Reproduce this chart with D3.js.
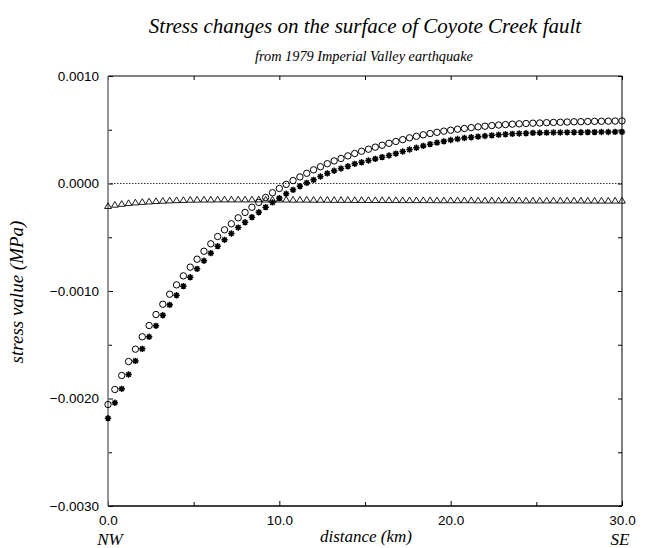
<!DOCTYPE html>
<html>
<head>
<meta charset="utf-8">
<script src="https://cdn.jsdelivr.net/npm/d3@7"></script>
<style>
  body { margin: 0; background: #fff; }
  svg { display: block; }
  .tick text { font-family: "Liberation Sans", Arial, sans-serif; font-size: 13.5px; fill: #000; }
  .serif { font-family: "Liberation Serif", "Times New Roman", serif; font-style: italic; fill: #000; }
</style>
</head>
<body>
<div id="chart"></div>
<script>
// distance along the fault (km)
const distance = [
  0.0, 0.4, 0.8, 1.2, 1.6, 2.0, 2.4, 2.8, 3.2, 3.6, 4.0, 4.4, 4.8, 5.2, 5.6, 6.0,
  6.4, 6.8, 7.2, 7.6, 8.0, 8.4, 8.8, 9.2, 9.6, 10.0, 10.4, 10.8, 11.2, 11.6, 12.0,
  12.4, 12.8, 13.2, 13.6, 14.0, 14.4, 14.8, 15.2, 15.6, 16.0, 16.4, 16.8, 17.2,
  17.6, 18.0, 18.4, 18.8, 19.2, 19.6, 20.0, 20.4, 20.8, 21.2, 21.6, 22.0, 22.4,
  22.8, 23.2, 23.6, 24.0, 24.4, 24.8, 25.2, 25.6, 26.0, 26.4, 26.8, 27.2, 27.6,
  28.0, 28.4, 28.8, 29.2, 29.6, 30.0
];

// open circles (MPa)
const circleValues = [
  -0.002056, -0.001916, -0.001786, -0.001656, -0.001541, -0.001426, -0.001321, -0.001219,
  -0.001123, -0.001030, -0.000943, -0.000859, -0.000778, -0.000704, -0.000630, -0.000561,
  -0.000493, -0.000431, -0.000375, -0.000319,
  -0.000269, -0.000221, -0.000176, -0.000130, -0.000086, -0.000046, -0.000008, 0.000027,
  0.000061, 0.000095, 0.000127, 0.000156, 0.000184, 0.000210, 0.000233, 0.000257,
  0.000279, 0.000300, 0.000319, 0.000338, 0.000356, 0.000374, 0.000391, 0.000408,
  0.000425, 0.000439,
  0.000453, 0.000465, 0.000476, 0.000487, 0.000496, 0.000505, 0.000512, 0.000520,
  0.000527, 0.000533, 0.000539, 0.000544, 0.000548, 0.000552, 0.000555, 0.000558, 0.000561,
  0.000563, 0.000566, 0.000568, 0.000570, 0.000572, 0.000574, 0.000575, 0.000577,
  0.000578, 0.000579, 0.000580, 0.000581, 0.000582
];

// asterisks (MPa)
const starValues = [
  -0.002183, -0.002040, -0.001910, -0.001777, -0.001650, -0.001538, -0.001426, -0.001324,
  -0.001225, -0.001129, -0.001039, -0.000955, -0.000872, -0.000794, -0.000719, -0.000648,
  -0.000583, -0.000524, -0.000465, -0.000410,
  -0.000360,
  -0.000313, -0.000267, -0.000220, -0.000176, -0.000136, -0.000096, -0.000059, -0.000025,
  0.000006, 0.000034, 0.000065, 0.000094, 0.000118, 0.000140, 0.000161, 0.000183,
  0.000198, 0.000214, 0.000229, 0.000245, 0.000260, 0.000278,
  0.000298, 0.000316, 0.000332, 0.000350, 0.000366, 0.000380, 0.000392, 0.000404,
  0.000414, 0.000423, 0.000430, 0.000436, 0.000442, 0.000448, 0.000453, 0.000458,
  0.000462, 0.000465, 0.000468, 0.000471,
  0.000472, 0.000473, 0.000474, 0.000475, 0.000476, 0.000477, 0.000477, 0.000478,
  0.000478, 0.000479, 0.000479, 0.000480, 0.000480
];

// open triangles (MPa)
const triangleValues = [
  -0.000210, -0.000198, -0.000190, -0.000183, -0.000177, -0.000172, -0.000168, -0.000164,
  -0.000161, -0.000158, -0.000156, -0.000154, -0.000152,
  -0.000151, -0.000150, -0.000150, -0.000149, -0.000149, -0.000149, -0.000149, -0.000149,
  -0.000149, -0.000149, -0.000150, -0.000150, -0.000150, -0.000150, -0.000151, -0.000151,
  -0.000151, -0.000152, -0.000152, -0.000152, -0.000153, -0.000153, -0.000153, -0.000154,
  -0.000154,
  -0.000154, -0.000155, -0.000155, -0.000155, -0.000155, -0.000156, -0.000156, -0.000156,
  -0.000156, -0.000156, -0.000157, -0.000157, -0.000157, -0.000157, -0.000157, -0.000157,
  -0.000158, -0.000158, -0.000158, -0.000158, -0.000158, -0.000158, -0.000158, -0.000159,
  -0.000159, -0.000159, -0.000159, -0.000159, -0.000159, -0.000159, -0.000159, -0.000159,
  -0.000160, -0.000160, -0.000160, -0.000160, -0.000160, -0.000160
];

const xTicks = [0, 10, 20, 30];
const xMinorTicks = [5, 15, 25];
const yTicks = [-0.003, -0.002, -0.001, 0, 0.001];
const yMinorTicks = [-0.0025, -0.0015, -0.0005, 0.0005];

const titleText = 'Stress changes on the surface of Coyote Creek fault';
const subtitleText = 'from 1979 Imperial Valley earthquake';

/*
 * Layout
 */
const width = 650, height = 548;
const margin = { top: 76, right: 28, bottom: 42, left: 108 };
const innerW = width - margin.left - margin.right;
const innerH = height - margin.top - margin.bottom;

const svg = d3.select('#chart').append('svg')
  .attr('width', width)
  .attr('height', height);

const g = svg.append('g')
  .attr('transform', `translate(${margin.left},${margin.top})`);

const x = d3.scaleLinear().domain([0, 30]).range([0, innerW]);
const y = d3.scaleLinear().domain([-0.003, 0.001]).range([innerH, 0]);

// Zero line (dotted)
g.append('line')
  .attr('x1', 0).attr('x2', innerW)
  .attr('y1', y(0)).attr('y2', y(0))
  .attr('stroke', '#000')
  .attr('stroke-width', 0.8)
  .attr('stroke-dasharray', '1.5,1.5');

// Axes with inward ticks
function styleAxis(sel) {
  sel.select('.domain').remove();
  sel.selectAll('.tick line').attr('stroke', '#000');
}

g.append('g')
  .attr('transform', `translate(0,${innerH})`)
  .call(d3.axisBottom(x).tickValues(xTicks).tickFormat(d3.format('.1f'))
    .tickSizeInner(-5).tickSizeOuter(0).tickPadding(9))
  .call(styleAxis);

g.append('g')
  .attr('transform', `translate(0,${innerH})`)
  .call(d3.axisBottom(x).tickValues(xMinorTicks).tickFormat('')
    .tickSizeInner(-4).tickSizeOuter(0))
  .call(styleAxis);

g.append('g')
  .call(d3.axisTop(x).tickValues(xTicks.concat(xMinorTicks)).tickFormat('')
    .tickSizeInner(-4).tickSizeOuter(0))
  .call(styleAxis);

g.append('g')
  .call(d3.axisLeft(y).tickValues(yTicks).tickFormat(d3.format('.4f'))
    .tickSizeInner(-5).tickSizeOuter(0).tickPadding(9))
  .call(styleAxis);

g.append('g')
  .call(d3.axisLeft(y).tickValues(yMinorTicks).tickFormat('')
    .tickSizeInner(-4).tickSizeOuter(0))
  .call(styleAxis);

g.append('g')
  .attr('transform', `translate(${innerW},0)`)
  .call(d3.axisRight(y).tickValues(yTicks.concat(yMinorTicks)).tickFormat('')
    .tickSizeInner(-4).tickSizeOuter(0))
  .call(styleAxis);

// Frame
g.append('line').attr('x1', 0).attr('x2', innerW).attr('y1', 0).attr('y2', 0)
  .attr('stroke', '#000').attr('stroke-width', 1);
g.append('line').attr('x1', innerW).attr('x2', innerW).attr('y1', 0).attr('y2', innerH)
  .attr('stroke', '#000').attr('stroke-width', 1);
g.append('line').attr('x1', 0).attr('x2', innerW).attr('y1', innerH).attr('y2', innerH)
  .attr('stroke', '#000').attr('stroke-width', 1.3);
g.append('line').attr('x1', 0).attr('x2', 0).attr('y1', 0).attr('y2', innerH)
  .attr('stroke', '#7a7a7a').attr('stroke-width', 1.6);

/*
 * Markers
 */
const triPath = 'M0,-3.3L3.4,2.4L-3.4,2.4Z';
const starPath = (() => {
  const r = 3.2, k = r * Math.SQRT1_2;
  return `M${-r},0L${r},0M0,${-r}L0,${r}M${-k},${-k}L${k},${k}M${-k},${k}L${k},${-k}`;
})();

g.append('g').selectAll('path')
  .data(distance.map((d, i) => [d, triangleValues[i]]))
  .join('path')
  .attr('transform', d => `translate(${x(d[0])},${y(d[1])})`)
  .attr('d', triPath)
  .attr('fill', 'none')
  .attr('stroke', '#000')
  .attr('stroke-width', 0.9);

g.append('g').selectAll('circle')
  .data(distance.map((d, i) => [d, circleValues[i]]))
  .join('circle')
  .attr('cx', d => x(d[0]))
  .attr('cy', d => y(d[1]))
  .attr('r', 3.2)
  .attr('fill', 'none')
  .attr('stroke', '#000')
  .attr('stroke-width', 1);

g.append('g').selectAll('path')
  .data(distance.map((d, i) => [d, starValues[i]]))
  .join('path')
  .attr('transform', d => `translate(${x(d[0])},${y(d[1])})`)
  .attr('d', starPath)
  .attr('fill', 'none')
  .attr('stroke', '#000')
  .attr('stroke-width', 1.5);

/*
 * Texts
 */
svg.append('text').attr('class', 'serif')
  .attr('x', margin.left + innerW / 2).attr('y', 33)
  .attr('text-anchor', 'middle').style('font-size', '21px')
  .text(titleText);

svg.append('text').attr('class', 'serif')
  .attr('x', margin.left + innerW / 2 - 1).attr('y', 61)
  .attr('text-anchor', 'middle').style('font-size', '14.3px')
  .text(subtitleText);

svg.append('text').attr('class', 'serif')
  .attr('x', margin.left + innerW / 2 + 1).attr('y', 542)
  .attr('text-anchor', 'middle').style('font-size', '17px')
  .text('distance (km)');

svg.append('text').attr('class', 'serif')
  .attr('x', margin.left + 2).attr('y', 545)
  .attr('text-anchor', 'middle').style('font-size', '17px')
  .text('NW');

svg.append('text').attr('class', 'serif')
  .attr('x', margin.left + innerW - 2).attr('y', 545)
  .attr('text-anchor', 'middle').style('font-size', '17px')
  .text('SE');

svg.append('text').attr('class', 'serif')
  .attr('transform', `translate(23,${margin.top + innerH / 2 + 1}) rotate(-90)`)
  .attr('text-anchor', 'middle').style('font-size', '19px')
  .text('stress value (MPa)');
</script>
</body>
</html>
